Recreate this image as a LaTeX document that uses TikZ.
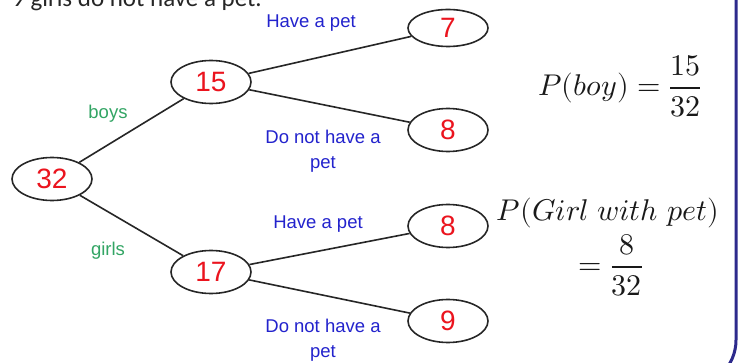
\documentclass[tikz,border=0pt]{standalone}
\usepackage{fontspec}
\usepackage{unicode-math}
\usetikzlibrary{shapes.geometric}
\newfontfamily\labelfont{Liberation Sans}
\newfontfamily\topfont{Carlito}
\definecolor{numred}{RGB}{235,20,30}
\definecolor{labblue}{RGB}{35,35,205}
\definecolor{labgreen}{RGB}{50,165,100}
\definecolor{framenavy}{RGB}{45,42,140}
\tikzset{
  cnt/.style={ellipse, draw=black!85, line width=1.6pt, minimum width=80pt,
    minimum height=43pt, inner sep=0pt, text=numred,
    font=\labelfont\fontsize{28}{30}\selectfont},
  br/.style={draw=black!85, line width=1.6pt},
  petlab/.style={text=labblue, font=\labelfont\fontsize{18.5}{25}\selectfont, align=center},
  sexlab/.style={text=labgreen, font=\labelfont\fontsize{18.5}{25}\selectfont},
  mathlab/.style={font=\fontsize{30}{34}\selectfont, inner sep=0pt, text=black!90},
}
\begin{document}
\begin{tikzpicture}[x=1pt,y=-1pt]
\useasboundingbox (0,0) rectangle (739,363);
\clip (0,0) rectangle (739,363);
\fill[white] (0,0) rectangle (739,363);
% frame
\draw[framenavy, line width=3pt, rounded corners=47pt] (-20,-100) rectangle (736,387);
% top text (cut off)
\node[anchor=base west, inner sep=0pt, text=black!85, font=\topfont\fontsize{25}{30}\selectfont] (toptext) at (12,6.5) {9 girls do not have a pet.};
% nodes
\node[cnt] (n32) at (52,179) {32};
\node[cnt] (n15) at (211,82) {15};
\node[cnt] (n17) at (211,272) {17};
\node[cnt, minimum height=37pt] (n7) at (448,28) {7};
\node[cnt] (n8a) at (448,130) {8};
\node[cnt] (n8b) at (448,226) {8};
\node[cnt] (n9) at (448,321) {9};
% branches
\draw[br] (n32) -- (n15);
\draw[br] (n32) -- (n17);
\draw[br] (n15) -- (n7);
\draw[br] (n15) -- (n8a);
\draw[br] (n17) -- (n8b);
\draw[br] (n17) -- (n9);
% labels
\node[sexlab] (lboys) at (108,114) {boys};
\node[sexlab] (lgirls) at (108,251) {girls};
\node[petlab] (lhave1) at (311,23) {Have a pet};
\node[petlab] (lnot1) at (323,151) {Do not have a\\pet};
\node[petlab] (lhave2) at (318,224) {Have a pet};
\node[petlab] (lnot2) at (323,340) {Do not have a\\pet};
% probabilities
\node[mathlab] (pboy) at (620,86) {$\displaystyle P(boy)=\frac{15}{32}$};
\node[mathlab] (pgirl) at (608,213) {$P(Girl\ with\ pet)$};
\node[mathlab] (pgirlfrac) at (611,265) {$\displaystyle =\frac{8}{32}$};
\end{tikzpicture}
\end{document}
